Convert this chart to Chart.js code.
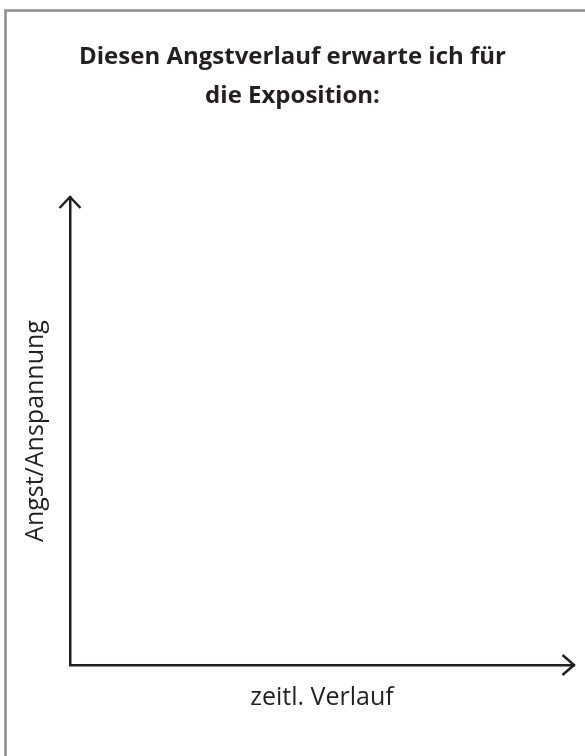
<!DOCTYPE html>
<html>
<head>
<meta charset="utf-8">
<script src="https://cdn.jsdelivr.net/npm/chart.js@4"></script>
<style>
  html, body { margin: 0; padding: 0; background: #fff; overflow: hidden; }
  #wrap { width: 585px; height: 756px; }
</style>
</head>
<body>
<div id="wrap"><canvas id="chart" width="585" height="756"></canvas></div>
<script>
// Chart texts
const titleLines = ["Diesen Angstverlauf erwarte ich für", "die Exposition:"];
const xAxisTitle = "zeitl. Verlauf";
const yAxisTitle = "Angst/Anspannung";

// Empty worksheet: no values are drawn yet
const timePoints = [];
const anxietyValues = [];

const ink = "#231f20";

// Gray page frame (top + left edge)
const framePlugin = {
  id: "frame",
  beforeDraw(chart) {
    const ctx = chart.ctx;
    ctx.save();
    ctx.strokeStyle = "#8c8c8c";
    ctx.lineWidth = 2.5;
    ctx.beginPath();
    ctx.moveTo(5.5, chart.height + 5);
    ctx.lineTo(5.5, 10.5);
    ctx.lineTo(chart.width + 5, 10.5);
    ctx.stroke();
    ctx.restore();
  }
};

// Arrow heads at the end of both axes
const arrowPlugin = {
  id: "arrows",
  afterDraw(chart) {
    const { left, top, right, bottom } = chart.chartArea;
    const ctx = chart.ctx;
    ctx.save();
    ctx.strokeStyle = ink;
    ctx.lineWidth = 2.5;
    ctx.beginPath();
    ctx.moveTo(left - 10.5, top + 11);
    ctx.lineTo(left, top);
    ctx.lineTo(left + 10.5, top + 11);
    ctx.moveTo(right - 11.5, bottom - 10);
    ctx.lineTo(right, bottom);
    ctx.lineTo(right - 11.5, bottom + 10);
    ctx.stroke();
    ctx.restore();
  }
};

new Chart(document.getElementById("chart"), {
  type: "line",
  data: {
    labels: timePoints,
    datasets: [{
      label: yAxisTitle,
      data: anxietyValues,
      borderColor: ink
    }]
  },
  options: {
    responsive: false,
    animation: false,
    layout: { padding: { top: 10, left: 11, right: 11, bottom: 39.5 } },
    plugins: {
      legend: { display: false },
      tooltip: { enabled: false },
      title: {
        display: true,
        text: titleLines,
        color: ink,
        font: { family: "'Open Sans'", size: 24, weight: "bold", lineHeight: "39px" },
        padding: { top: 28, bottom: 81 }
      }
    },
    scales: {
      x: {
        type: "linear",
        min: 0,
        max: 10,
        grid: { display: false, drawTicks: false },
        ticks: { display: false },
        border: { display: true, color: ink, width: 2.5 },
        title: {
          display: true,
          text: xAxisTitle,
          color: ink,
          font: { family: "'Open Sans'", size: 25, lineHeight: 1.2 },
          padding: { top: 17.5, bottom: 4 }
        }
      },
      y: {
        type: "linear",
        min: 0,
        max: 10,
        grid: { display: false, drawTicks: false },
        ticks: { display: false },
        border: { display: true, color: ink, width: 2.5 },
        title: {
          display: true,
          text: yAxisTitle,
          color: ink,
          font: { family: "'Open Sans'", size: 25, lineHeight: 1.2 },
          padding: { top: 9.5, bottom: 19.5 }
        }
      }
    }
  },
  plugins: [framePlugin, arrowPlugin]
});
</script>
</body>
</html>
